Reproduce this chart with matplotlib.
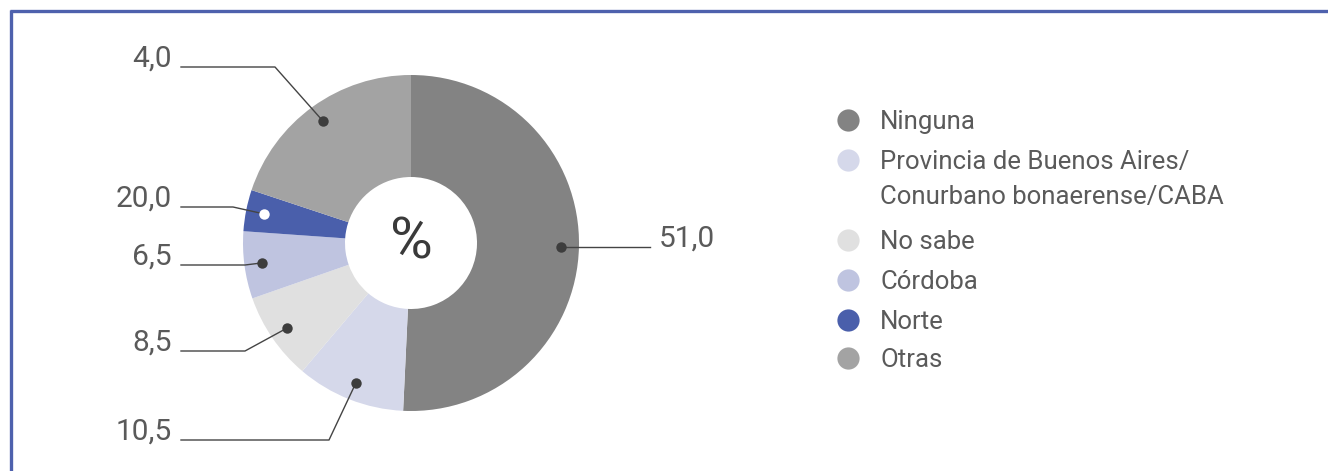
import numpy as np
import matplotlib
matplotlib.use("Agg")
import matplotlib.pyplot as plt
from matplotlib.lines import Line2D

plt.rcParams['font.family'] = ['Roboto', 'DejaVu Sans']

# Regions mentioned (%)
categories = ["Ninguna",
              "Provincia de Buenos Aires/\nConurbano bonaerense/CABA",
              "No sabe", "Córdoba", "Norte", "Otras"]
shares = [51.0, 10.5, 8.5, 6.5, 4.0, 20.0]
value_labels = ["51,0", "10,5", "8,5", "6,5", "20,0", "4,0"]
colors = ["#838383", "#d5d8ea", "#e0e0e0", "#bfc4e0", "#4a5fab", "#a3a3a3"]

W, H = 1328, 471
fig = plt.figure(figsize=(W / 100, H / 100), dpi=100)

# pie geometry in pixels
cx, cy, R, r_in = 411, 243, 168, 66

def px_box(x0, y0, w, h):
    return [x0 / W, 1 - (y0 + h) / H, w / W, h / H]

ax = fig.add_axes(px_box(cx - R, cy - R, 2 * R, 2 * R))
wedges, _ = ax.pie(shares, colors=colors, startangle=90, counterclock=False,
                   radius=1.0, wedgeprops=dict(width=1 - r_in / R, linewidth=0))
ax.set_xlim(-1, 1)
ax.set_ylim(-1, 1)
ax.set_aspect('equal')
ax.axis('off')
ax.text(0, 0, "%", ha='center', va='center', fontsize=42, color="#3a3a3a")

def to_data(px, py):
    return (px - cx) / R, (cy - py) / R

# leader layout: elbow (pixels), end of horizontal run, label side
leaders = [
    (None, 650, 'left'),
    ((329, 440), 181, 'right'),
    ((245, 351), 181, 'right'),
    ((245, 265), 181, 'right'),
    ((233, 207), 181, 'right'),
    ((275, 67), 181, 'right'),
]
dot_colors = ["#3d3d3d", "#3d3d3d", "#3d3d3d", "#3d3d3d", "white", "#3d3d3d"]
r_dot = 150 / R
for w, lab, (elbow, xend, side), dc in zip(wedges, value_labels, leaders, dot_colors):
    th = np.deg2rad((w.theta1 + w.theta2) / 2)
    dx, dy = r_dot * np.cos(th), r_dot * np.sin(th)
    if elbow is None:
        ex, ey = dx, dy
    else:
        ex, ey = to_data(*elbow)
    hx, _ = to_data(xend, 0)
    ax.plot([dx, ex, hx], [dy, ey, ey], color="#444444", lw=1.0,
            clip_on=False, zorder=3)
    ax.plot(dx, dy, 'o', ms=7.5, color=dc, mec='none', clip_on=False, zorder=4)
    if side == 'right':
        tx, ha = hx - 9 / R, 'right'
    else:
        tx, ha = hx + 9 / R, 'left'
    ax.text(tx, ey, lab, ha=ha, va='baseline', fontsize=21.5, color="#5a5a5a")

# legend
lax = fig.add_axes([0, 0, 1, 1])
lax.set_xlim(0, W)
lax.set_ylim(H, 0)
lax.axis('off')
leg_y = [120, 160, 240, 280, 320, 358]
for cat, col, y in zip(categories, colors, leg_y):
    lax.plot(848, y, 'o', ms=16, color=col, mec='none')
    for i, line in enumerate(cat.split("\n")):
        lax.text(880, y + 9 + i * 35, line, ha='left', va='baseline',
                 fontsize=18.5, color="#5a5a5a")

# frame lines (top and left)
fig.add_artist(Line2D([10 / W, 1], [1 - 11 / H, 1 - 11 / H], color="#4e61ad",
                      lw=2.4, solid_capstyle='butt'))
fig.add_artist(Line2D([11 / W, 11 / W], [0, 1 - 10 / H], color="#4e61ad",
                      lw=2.4, solid_capstyle='butt'))

fig.savefig("out.png", dpi=100)
